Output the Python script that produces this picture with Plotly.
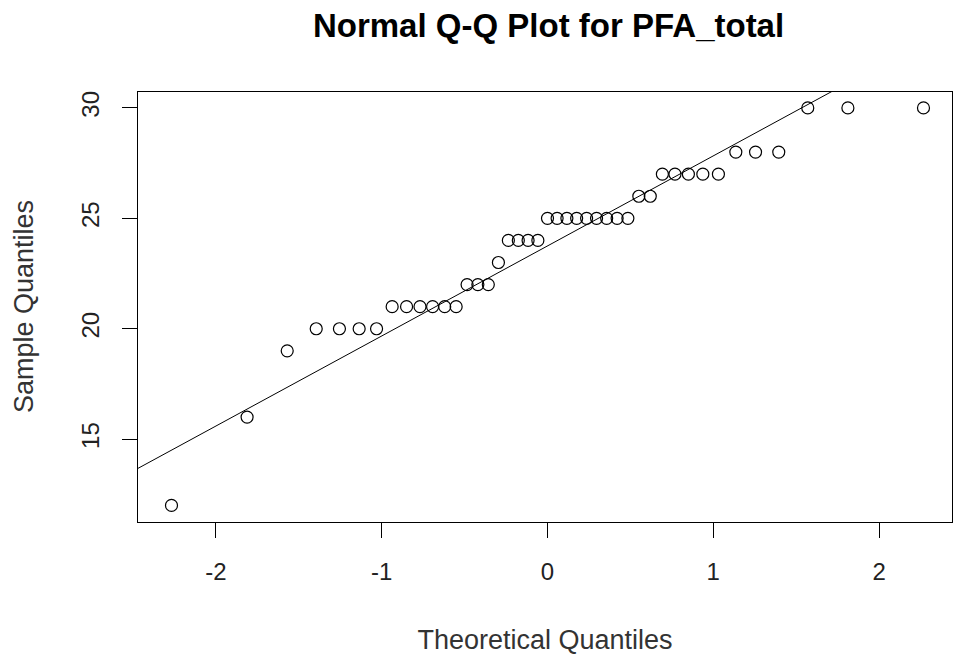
import plotly.graph_objects as go
import numpy as np

# Sorted sample values (PFA_total)
sample_values = [12, 16, 19, 20, 20, 20, 20,
                 21, 21, 21, 21, 21, 21,
                 22, 22, 22, 23,
                 24, 24, 24, 24,
                 25, 25, 25, 25, 25, 25, 25, 25, 25,
                 26, 26,
                 27, 27, 27, 27, 27,
                 28, 28, 28,
                 30, 30, 30]

# Theoretical normal quantiles (qqnorm, n = 43)
theoretical = [-2.268, -1.812, -1.570, -1.395, -1.255, -1.136, -1.031, -0.937, -0.850,
               -0.769, -0.693, -0.620, -0.551, -0.485, -0.420, -0.357, -0.296, -0.236,
               -0.176, -0.117, -0.058, 0.000, 0.058, 0.117, 0.176, 0.236, 0.296, 0.357,
               0.420, 0.485, 0.551, 0.620, 0.693, 0.769, 0.850, 0.937, 1.031, 1.136,
               1.255, 1.395, 1.570, 1.812, 2.268]

x_ticks = [-2, -1, 0, 1, 2]
x_tick_labels = ["-2", "-1", "0", "1", "2"]
y_ticks = [15, 20, 25, 30]
y_tick_labels = ["15", "20", "25", "30"]

# qqline through the quartiles
q1, q3 = np.percentile(sample_values, [25, 75])
zq = 0.6744897501960817
slope = (q3 - q1) / (2 * zq)
intercept = q1 + slope * zq

x_range = [-2.47, 2.44]
y_range = [11.25, 30.72]
line_x = [x_range[0], x_range[1]]
line_y = [intercept + slope * v for v in line_x]

font_family = "Liberation Sans, Arial, sans-serif"

fig = go.Figure()
fig.add_trace(go.Scatter(x=line_x, y=line_y, mode="lines",
                         line=dict(color="black", width=1), showlegend=False,
                         hoverinfo="skip"))
fig.add_trace(go.Scatter(x=theoretical, y=sample_values, mode="markers",
                         marker=dict(symbol="circle-open", size=12,
                                     color="black", line=dict(width=1.2)),
                         showlegend=False))

fig.update_layout(
    width=954, height=659,
    margin=dict(l=138, r=2, t=92, b=137),
    paper_bgcolor="white", plot_bgcolor="white",
    font=dict(family=font_family, color="black", size=24),
    title=dict(text="<b>Normal Q-Q Plot for PFA_total</b>", x=0.575, xanchor="center",
               xref="container", yref="container",
               y=0.962, yanchor="middle", font=dict(size=33, family=font_family)),
    xaxis=dict(range=x_range, tickvals=x_ticks, ticktext=x_tick_labels,
               ticks="outside", ticklen=15, automargin=False,
               tickcolor="black", showline=True, mirror=True, linecolor="black",
               linewidth=1, showgrid=False, zeroline=False, ticklabelstandoff=13,
               tickfont=dict(size=24, color="#222"),
               title=dict(text="Theoretical Quantiles", standoff=46,
                          font=dict(size=27, color="#333"))),
    yaxis=dict(range=y_range, tickvals=y_ticks, ticktext=y_tick_labels,
               ticks="outside", ticklen=15, automargin=False,
               tickcolor="black", showline=True, mirror=True, linecolor="black",
               linewidth=1, showgrid=False, zeroline=False, tickangle=-90,
               ticklabelstandoff=13, tickfont=dict(size=24, color="#222")),
    annotations=[dict(text="Sample Quantiles", xref="paper", yref="paper",
                      x=0, y=0.5, xshift=-114, xanchor="center", yanchor="middle",
                      textangle=-90, showarrow=False,
                      font=dict(size=27, color="#333", family=font_family))],
)

fig.write_html("out.html",
               config={"displayModeBar": False},
               post_script="document.body.style.margin='0';document.body.style.overflow='hidden';")
